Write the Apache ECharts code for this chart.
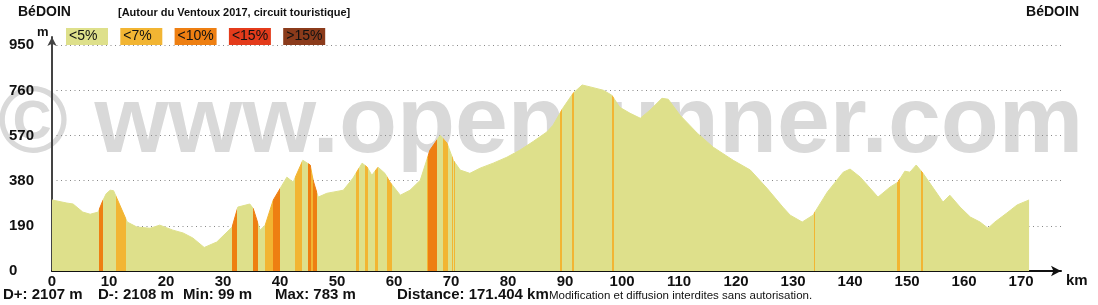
<!DOCTYPE html>
<html>
<head>
<meta charset="utf-8">
<script src="https://cdn.jsdelivr.net/npm/echarts@6/dist/echarts.min.js"></script>
<style>
html,body{margin:0;padding:0;background:#fff;}
#chart{width:1098px;height:305px;}
</style>
</head>
<body>
<div id="chart"></div>
<script>
// ---- data ----
const distanceKm = [0, 2.6, 3.7, 5.4, 6.7, 8.1, 8.8, 9.5, 10.2, 10.8, 11.1, 13.2, 14.9, 17.2, 18.9, 21.2, 23.0, 24.7, 26.7, 28.9, 31.6, 32.6, 34.7, 35.3, 36.5, 37.4, 38.8, 41.2, 42.3, 44.0, 45.3, 45.8, 46.7, 48.2, 49.3, 51.1, 52.8, 54.4, 55.3, 56.1, 57.2, 58.4, 59.3, 61.1, 62.8, 64.6, 66.3, 68.1, 69.3, 70.4, 71.6, 73.3, 75.1, 77.4, 79.8, 82.1, 84.4, 86.8, 87.9, 89.6, 91.4, 93.0, 94.4, 96.7, 98.2, 99.6, 101.4, 103.2, 104.9, 107.0, 108.1, 110.2, 113.2, 116.0, 119.5, 122.5, 125.4, 128.2, 129.5, 131.6, 133.5, 136.0, 138.8, 140.0, 141.8, 144.9, 147.0, 148.4, 149.6, 150.5, 151.6, 152.8, 154.6, 156.3, 157.5, 159.3, 161.1, 162.8, 164.2, 165.4, 167.5, 169.3, 171.4];
const elevationM = [299, 286, 282, 248, 239, 248, 290, 325, 340, 338, 332, 206, 185, 180, 193, 172, 160, 139, 99, 122, 185, 269, 282, 263, 172, 193, 298, 395, 374, 466, 446, 382, 311, 327, 332, 340, 391, 454, 437, 403, 437, 411, 374, 319, 340, 382, 509, 571, 538, 466, 425, 411, 433, 454, 479, 509, 545, 585, 614, 685, 748, 783, 775, 761, 740, 689, 664, 643, 677, 727, 723, 655, 580, 521, 466, 425, 349, 269, 235, 206, 235, 332, 416, 429, 395, 311, 353, 374, 420, 416, 446, 411, 349, 290, 319, 269, 227, 206, 180, 206, 244, 278, 299];

// slope bands (km from, km to, class index into slopeColors)
const bandFrom  = [8.2, 11.2, 31.5, 35.3, 37.4, 38.8, 42.6, 44.9, 45.5, 45.8, 53.4, 54.9, 56.7, 58.8, 65.7, 66.0, 68.6, 70.1, 70.5, 89.1, 91.2, 98.2, 133.6, 148.3, 152.5];
const bandTo    = [8.9, 13.0, 32.4, 36.1, 38.8, 40.0, 43.9, 45.5, 45.8, 46.5, 53.9, 55.5, 57.1, 59.6, 66.0, 67.5, 69.5, 70.3, 70.7, 89.4, 91.5, 98.5, 133.8, 148.8, 152.8];
const bandClass = [2, 1, 2, 2, 1, 2, 1, 2, 1, 2, 1, 1, 1, 1, 1, 2, 1, 1, 1, 1, 1, 1, 1, 1, 1];

const slopeLabels = ['<5%', '<7%', '<10%', '<15%', '>15%'];
const slopeColors = ['#dee08b', '#f2b533', '#ee7f12', '#e43b1b', '#8b3b1b'];

const xTicks = [0, 10, 20, 30, 40, 50, 60, 70, 80, 90, 100, 110, 120, 130, 140, 150, 160, 170];
const yTicks = [0, 190, 380, 570, 760, 950];

const statsLeft = ['D+: 2107 m', 'D-: 2108 m', 'Min: 99 m', 'Max: 783 m', 'Distance: 171.404 km'];
const statsX = [3, 98, 183, 275, 397];
const notice = 'Modification et diffusion interdites sans autorisation.';
const startName = 'BéDOIN';
const endName = 'BéDOIN';
const routeTitle = '[Autour du Ventoux 2017, circuit touristique]';
const watermark = '© www.openrunner.com';

// ---- build ----
const points = distanceKm.map((d, i) => [d, elevationM[i]]);
const pieces = bandFrom.map((f, i) => ({ gte: f, lt: bandTo[i], color: slopeColors[bandClass[i]] }));

const FONT = '"Liberation Sans", Arial, sans-serif';
const graphic = [];
graphic.push({ type: 'text', z: -10, left: -2, top: 78,
  style: { text: watermark, font: 'bold 95px ' + FONT, fill: '#d9d9d9' } });
graphic.push({ type: 'text', left: 18, top: 5, style: { text: startName, font: 'bold 14px ' + FONT, fill: '#111' } });
graphic.push({ type: 'text', left: 118, top: 7, style: { text: routeTitle, font: 'bold 11px ' + FONT, fill: '#111' } });
graphic.push({ type: 'text', right: 19, top: 5, style: { text: endName, font: 'bold 14px ' + FONT, fill: '#111' } });
graphic.push({ type: 'text', left: 37, top: 26, style: { text: 'm', font: 'bold 13px ' + FONT, fill: '#111' } });
graphic.push({ type: 'text', left: 1066, top: 273, style: { text: 'km', font: 'bold 15px ' + FONT, fill: '#111' } });
slopeLabels.forEach((lab, i) => {
  const x = 66 + i * 54.3;
  graphic.push({ type: 'rect', z: 50, shape: { x: x, y: 28, width: 42, height: 17 }, style: { fill: slopeColors[i] } });
  graphic.push({ type: 'text', z: 51, x: x + 3, y: 36.5, style: { text: lab, font: '14px ' + FONT, fill: '#111', verticalAlign: 'middle' } });
});
statsLeft.forEach((s, i) => {
  graphic.push({ type: 'text', x: statsX[i], y: 295, style: { text: s, font: 'bold 15px ' + FONT, fill: '#111', verticalAlign: 'middle' } });
});
graphic.push({ type: 'text', x: 549, y: 296, style: { text: notice, font: '11.5px ' + FONT, fill: '#111', verticalAlign: 'middle' } });

const chart = echarts.init(document.getElementById('chart'), null, { renderer: 'canvas' });
chart.setOption({
  animation: false,
  backgroundColor: '#fff',
  grid: { left: 52, right: 37, top: 37, bottom: 34, containLabel: false },
  xAxis: {
    type: 'value', min: 0, max: 177, interval: 10,
    axisLine: { show: true, lineStyle: { color: '#111', width: 2 }, symbol: ['none', 'arrow'], symbolSize: [8, 10] },
    axisTick: { show: false },
    splitLine: { show: false },
    axisLabel: { margin: 3, color: '#111', fontFamily: FONT, fontWeight: 'bold', fontSize: 15,
      showMaxLabel: false,
      formatter: v => (xTicks.indexOf(v) >= 0 ? String(v) : '') }
  },
  yAxis: {
    type: 'value', min: 0, max: 985, interval: 190,
    axisLine: { show: true, lineStyle: { color: '#444', width: 2 }, symbol: ['none', 'arrow'], symbolSize: [7, 9] },
    axisTick: { show: false },
    splitLine: { show: true, showMaxLine: false, lineStyle: { color: '#888', width: 1, type: [1, 3.5] } },
    axisLabel: { margin: 43, align: 'left', color: '#111', fontFamily: FONT, fontWeight: 'bold', fontSize: 15,
      padding: [0, 0, 8, 0], showMaxLabel: false,
      formatter: v => (yTicks.indexOf(v) >= 0 ? String(v) : '') }
  },
  visualMap: {
    show: false, type: 'piecewise', dimension: 0, seriesIndex: 0,
    pieces: pieces,
    outOfRange: { color: slopeColors[0] }
  },
  series: [{
    type: 'line', data: points, showSymbol: false, smooth: false, z: 2,
    lineStyle: { width: 1 },
    areaStyle: { opacity: 1 }
  }],
  graphic: graphic
});
</script>
</body>
</html>
